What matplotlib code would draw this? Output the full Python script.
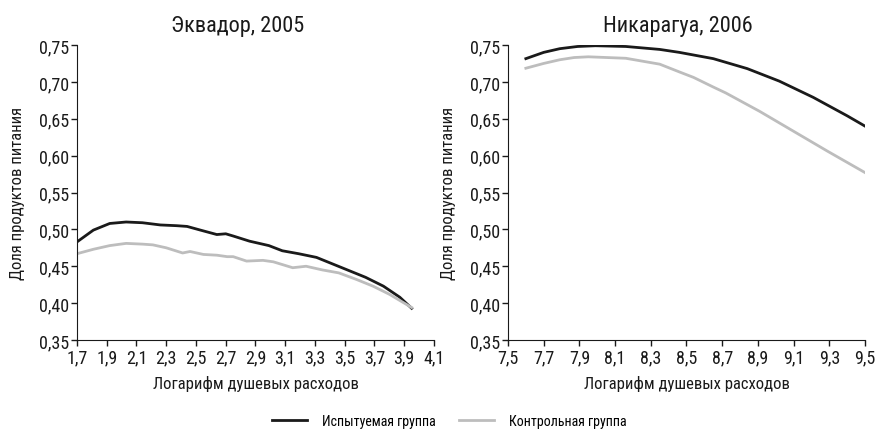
import matplotlib
matplotlib.use("Agg")
import matplotlib.pyplot as plt
from matplotlib import font_manager
from matplotlib.ticker import FuncFormatter

# pick a narrow face if one is installed, otherwise condensed DejaVu
names = {f.name for f in font_manager.fontManager.ttflist}
narrow = [n for n in ['Liberation Sans Narrow', 'Roboto Condensed', 'Open Sans Condensed',
                      'DejaVu Sans Condensed'] if n in names]
plt.rcParams['font.family'] = narrow[:1] + ['DejaVu Sans']
plt.rcParams['font.stretch'] = 'condensed'
scale = 1.0 if narrow else 0.85

# Эквадор, 2005
ecu_x_treat = [1.70, 1.81, 1.92, 2.03, 2.14, 2.26, 2.37, 2.44, 2.53, 2.64, 2.70, 2.75,
               2.86, 2.99, 3.08, 3.19, 3.31, 3.42, 3.53, 3.64, 3.76, 3.87, 3.95]
ecu_y_treat = [0.483, 0.499, 0.508, 0.510, 0.509, 0.506, 0.505, 0.504, 0.499, 0.493, 0.494, 0.491,
               0.484, 0.478, 0.471, 0.467, 0.462, 0.453, 0.444, 0.435, 0.423, 0.408, 0.393]
ecu_x_ctrl = [1.70, 1.81, 1.92, 2.03, 2.14, 2.21, 2.30, 2.41, 2.46, 2.55, 2.64, 2.71, 2.75,
              2.84, 2.95, 3.02, 3.15, 3.24, 3.35, 3.46, 3.58, 3.69, 3.80, 3.95]
ecu_y_ctrl = [0.467, 0.473, 0.478, 0.481, 0.480, 0.479, 0.475, 0.468, 0.470, 0.466, 0.465, 0.463, 0.463,
              0.457, 0.458, 0.456, 0.448, 0.450, 0.445, 0.441, 0.432, 0.423, 0.412, 0.394]

# Никарагуа, 2006
nic_x_treat = [7.60, 7.70, 7.79, 7.89, 7.99, 8.16, 8.35, 8.46, 8.65, 8.84, 9.02, 9.21, 9.40, 9.50]
nic_y_treat = [0.7315, 0.740, 0.745, 0.748, 0.749, 0.748, 0.744, 0.740, 0.7315, 0.718, 0.701,
               0.679, 0.654, 0.640]
nic_x_ctrl = [7.60, 7.70, 7.79, 7.87, 7.95, 8.16, 8.35, 8.46, 8.54, 8.65, 8.72, 8.91, 9.10, 9.29, 9.50]
nic_y_ctrl = [0.7185, 0.725, 0.730, 0.733, 0.734, 0.732, 0.724, 0.7135, 0.706, 0.693, 0.685,
              0.660, 0.633, 0.606, 0.577]

ecu_ticks = [1.7, 1.9, 2.1, 2.3, 2.5, 2.7, 2.9, 3.1, 3.3, 3.5, 3.7, 3.9, 4.1]
nic_ticks = [7.5, 7.7, 7.9, 8.1, 8.3, 8.5, 8.7, 8.9, 9.1, 9.3, 9.5]
y_ticks = [0.35, 0.40, 0.45, 0.50, 0.55, 0.60, 0.65, 0.70, 0.75]

labels = ["Испытуемая группа", "Контрольная группа"]
dark = "#1a1a1a"
light = "#bdbdbd"

fig = plt.figure(figsize=(8.78, 4.31), dpi=100)
ax1 = fig.add_axes([77/878, 1 - 341/431, 357/878, 295/431])
ax2 = fig.add_axes([508/878, 1 - 341/431, 357/878, 295/431])

comma = FuncFormatter(lambda v, p: f"{v:.1f}".replace(".", ","))
comma2 = FuncFormatter(lambda v, p: f"{v:.2f}".replace(".", ","))

l1, = ax1.plot(ecu_x_treat, ecu_y_treat, color=dark, lw=2)
l2, = ax1.plot(ecu_x_ctrl, ecu_y_ctrl, color=light, lw=2)
ax2.plot(nic_x_treat, nic_y_treat, color=dark, lw=2)
ax2.plot(nic_x_ctrl, nic_y_ctrl, color=light, lw=2)

for ax, ticks, title, tx in [(ax1, ecu_ticks, "Эквадор, 2005", 0.45),
                             (ax2, nic_ticks, "Никарагуа, 2006", 0.475)]:
    ax.set_xlim(ticks[0], ticks[-1])
    ax.set_ylim(0.35, 0.75)
    ax.set_xticks(ticks)
    ax.set_yticks(y_ticks)
    ax.xaxis.set_major_formatter(comma)
    ax.yaxis.set_major_formatter(comma2)
    ax.spines['top'].set_visible(False)
    ax.spines['right'].set_visible(False)
    ax.spines['left'].set_color(dark)
    ax.spines['bottom'].set_color(dark)
    ax.tick_params(direction='out', length=4, width=1, labelsize=13 * scale, colors=dark, pad=2)
    ax.set_title(title, x=tx, fontsize=16 * scale, color=dark, pad=10)
    ax.set_xlabel("Логарифм душевых расходов", fontsize=12 * scale, color=dark, labelpad=6)
    ax.set_ylabel("Доля продуктов питания", fontsize=12 * scale, color=dark, labelpad=10)

fig.legend([l1, l2], labels, loc='lower center', bbox_to_anchor=(0.512, -0.025), ncol=2,
           frameon=False, fontsize=10 * scale, handlelength=2.5, handletextpad=1.1,
           columnspacing=1.7)

fig.savefig("out.png", dpi=100)
